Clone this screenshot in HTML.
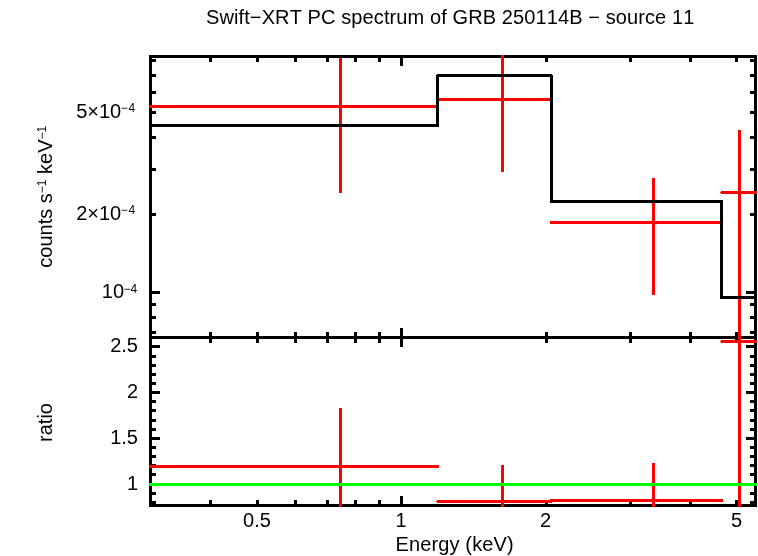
<!DOCTYPE html>
<html><head><meta charset="utf-8"><title>Swift-XRT PC spectrum</title>
<style>html,body{margin:0;padding:0;background:#fff}svg{display:block}text{font-kerning:none;font-family:"Liberation Sans",sans-serif;font-size:20px;fill:#000}</style>
</head><body>
<svg width="758" height="556" viewBox="0 0 758 556">
<rect x="0" y="0" width="758" height="556" fill="#fff"/>
<g shape-rendering="crispEdges"><rect x="149" y="55" width="608" height="3" fill="#000"/><rect x="149" y="336" width="608" height="3" fill="#000"/><rect x="149" y="504" width="608" height="3" fill="#000"/><rect x="149" y="55" width="3" height="452" fill="#000"/><rect x="754" y="55" width="3" height="452" fill="#000"/><rect x="209" y="58" width="3" height="4" fill="#000"/><rect x="209" y="332" width="3" height="11" fill="#000"/><rect x="209" y="500" width="3" height="4" fill="#000"/><rect x="256" y="58" width="3" height="4" fill="#000"/><rect x="256" y="332" width="3" height="11" fill="#000"/><rect x="256" y="500" width="3" height="4" fill="#000"/><rect x="294" y="58" width="3" height="4" fill="#000"/><rect x="294" y="332" width="3" height="11" fill="#000"/><rect x="294" y="500" width="3" height="4" fill="#000"/><rect x="326" y="58" width="3" height="4" fill="#000"/><rect x="326" y="332" width="3" height="11" fill="#000"/><rect x="326" y="500" width="3" height="4" fill="#000"/><rect x="354" y="58" width="3" height="4" fill="#000"/><rect x="354" y="332" width="3" height="11" fill="#000"/><rect x="354" y="500" width="3" height="4" fill="#000"/><rect x="378" y="58" width="3" height="4" fill="#000"/><rect x="378" y="332" width="3" height="11" fill="#000"/><rect x="378" y="500" width="3" height="4" fill="#000"/><rect x="400" y="58" width="3" height="8" fill="#000"/><rect x="400" y="328" width="3" height="19" fill="#000"/><rect x="400" y="496" width="3" height="8" fill="#000"/><rect x="545" y="58" width="3" height="4" fill="#000"/><rect x="545" y="332" width="3" height="11" fill="#000"/><rect x="545" y="500" width="3" height="4" fill="#000"/><rect x="629" y="58" width="3" height="4" fill="#000"/><rect x="629" y="332" width="3" height="11" fill="#000"/><rect x="629" y="500" width="3" height="4" fill="#000"/><rect x="689" y="58" width="3" height="4" fill="#000"/><rect x="689" y="332" width="3" height="11" fill="#000"/><rect x="689" y="500" width="3" height="4" fill="#000"/><rect x="735" y="58" width="3" height="4" fill="#000"/><rect x="735" y="332" width="3" height="11" fill="#000"/><rect x="735" y="500" width="3" height="4" fill="#000"/><rect x="152" y="59" width="4" height="3" fill="#000"/><rect x="750" y="59" width="4" height="3" fill="#000"/><rect x="152" y="74" width="4" height="3" fill="#000"/><rect x="750" y="74" width="4" height="3" fill="#000"/><rect x="152" y="91" width="4" height="3" fill="#000"/><rect x="750" y="91" width="4" height="3" fill="#000"/><rect x="152" y="111" width="4" height="3" fill="#000"/><rect x="750" y="111" width="4" height="3" fill="#000"/><rect x="152" y="136" width="4" height="3" fill="#000"/><rect x="750" y="136" width="4" height="3" fill="#000"/><rect x="152" y="168" width="4" height="3" fill="#000"/><rect x="750" y="168" width="4" height="3" fill="#000"/><rect x="152" y="213" width="4" height="3" fill="#000"/><rect x="750" y="213" width="4" height="3" fill="#000"/><rect x="152" y="291" width="8" height="3" fill="#000"/><rect x="746" y="291" width="8" height="3" fill="#000"/><rect x="152" y="303" width="4" height="3" fill="#000"/><rect x="750" y="303" width="4" height="3" fill="#000"/><rect x="152" y="316" width="4" height="3" fill="#000"/><rect x="750" y="316" width="4" height="3" fill="#000"/><rect x="152" y="331" width="4" height="3" fill="#000"/><rect x="750" y="331" width="4" height="3" fill="#000"/><rect x="152" y="345" width="8" height="3" fill="#000"/><rect x="746" y="345" width="8" height="3" fill="#000"/><rect x="152" y="355" width="4" height="3" fill="#000"/><rect x="750" y="355" width="4" height="3" fill="#000"/><rect x="152" y="364" width="4" height="3" fill="#000"/><rect x="750" y="364" width="4" height="3" fill="#000"/><rect x="152" y="373" width="4" height="3" fill="#000"/><rect x="750" y="373" width="4" height="3" fill="#000"/><rect x="152" y="382" width="4" height="3" fill="#000"/><rect x="750" y="382" width="4" height="3" fill="#000"/><rect x="152" y="391" width="8" height="3" fill="#000"/><rect x="746" y="391" width="8" height="3" fill="#000"/><rect x="152" y="400" width="4" height="3" fill="#000"/><rect x="750" y="400" width="4" height="3" fill="#000"/><rect x="152" y="409" width="4" height="3" fill="#000"/><rect x="750" y="409" width="4" height="3" fill="#000"/><rect x="152" y="419" width="4" height="3" fill="#000"/><rect x="750" y="419" width="4" height="3" fill="#000"/><rect x="152" y="428" width="4" height="3" fill="#000"/><rect x="750" y="428" width="4" height="3" fill="#000"/><rect x="152" y="437" width="8" height="3" fill="#000"/><rect x="746" y="437" width="8" height="3" fill="#000"/><rect x="152" y="446" width="4" height="3" fill="#000"/><rect x="750" y="446" width="4" height="3" fill="#000"/><rect x="152" y="455" width="4" height="3" fill="#000"/><rect x="750" y="455" width="4" height="3" fill="#000"/><rect x="152" y="464" width="4" height="3" fill="#000"/><rect x="750" y="464" width="4" height="3" fill="#000"/><rect x="152" y="473" width="4" height="3" fill="#000"/><rect x="750" y="473" width="4" height="3" fill="#000"/><rect x="152" y="483" width="8" height="3" fill="#000"/><rect x="746" y="483" width="8" height="3" fill="#000"/><rect x="152" y="492" width="4" height="3" fill="#000"/><rect x="750" y="492" width="4" height="3" fill="#000"/><rect x="152" y="501" width="4" height="3" fill="#000"/><rect x="750" y="501" width="4" height="3" fill="#000"/><rect x="149" y="105" width="287" height="3" fill="#f00"/><rect x="339" y="58" width="3" height="135" fill="#f00"/><rect x="439" y="98" width="111" height="3" fill="#f00"/><rect x="501" y="55" width="3" height="117" fill="#f00"/><rect x="550" y="221" width="170" height="3" fill="#f00"/><rect x="652" y="178" width="3" height="117" fill="#f00"/><rect x="721" y="191" width="36" height="3" fill="#f00"/><rect x="720" y="192" width="1" height="1" fill="#f00"/><rect x="738" y="130" width="3" height="377" fill="#f00"/><rect x="149" y="465" width="290" height="3" fill="#f00"/><rect x="339" y="408" width="3" height="99" fill="#f00"/><rect x="437" y="500" width="115" height="3" fill="#f00"/><rect x="436" y="501" width="1" height="1" fill="#f00"/><rect x="501" y="465" width="3" height="42" fill="#f00"/><rect x="550" y="499" width="173" height="3" fill="#f00"/><rect x="652" y="463" width="3" height="44" fill="#f00"/><rect x="721" y="340" width="36" height="3" fill="#f00"/><rect x="720" y="341" width="1" height="1" fill="#f00"/><rect x="149" y="124" width="290" height="3" fill="#000"/><rect x="436" y="75" width="3" height="52" fill="#000"/><rect x="437" y="74" width="115" height="1" fill="#000"/><rect x="436" y="75" width="117" height="2" fill="#000"/><rect x="550" y="75" width="3" height="128" fill="#000"/><rect x="550" y="200" width="173" height="3" fill="#000"/><rect x="720" y="200" width="3" height="99" fill="#000"/><rect x="720" y="296" width="37" height="3" fill="#000"/><rect x="149" y="483" width="608" height="3" fill="#0f0"/></g>
<g>
<text x="206" y="24" textLength="488.3" lengthAdjust="spacing">Swift−XRT PC spectrum of GRB 250114B − source 11</text>
<text x="76.2" y="118.2">5×10</text><text x="120.7" y="112.4" style="font-size:12px" textLength="14.5">−4</text>
<text x="76.2" y="219.9">2×10</text><text x="120.7" y="214.1" style="font-size:12px" textLength="14.5">−4</text>
<text x="101.8" y="298.3">10</text><text x="123.6" y="292.5" style="font-size:12px" textLength="13.6">−4</text>
<text x="138" y="352" text-anchor="end">2.5</text>
<text x="138" y="398" text-anchor="end">2</text>
<text x="138" y="444" text-anchor="end">1.5</text>
<text x="138" y="490" text-anchor="end">1</text>
<text x="257" y="527" text-anchor="middle">0.5</text>
<text x="401" y="527" text-anchor="middle">1</text>
<text x="545.5" y="527" text-anchor="middle">2</text>
<text x="736.5" y="527" text-anchor="middle">5</text>
<text x="395.5" y="551" textLength="118.2" lengthAdjust="spacing">Energy (keV)</text>
<text transform="translate(52.3,196.7) rotate(-90)" text-anchor="middle">counts s<tspan dy="-6.5" font-size="12">−1</tspan><tspan dy="6.5"> keV</tspan><tspan dy="-6.5" font-size="12">−1</tspan></text>
<text transform="translate(52.3,422.5) rotate(-90)" text-anchor="middle">ratio</text>
</g>
</svg>
</body></html>
